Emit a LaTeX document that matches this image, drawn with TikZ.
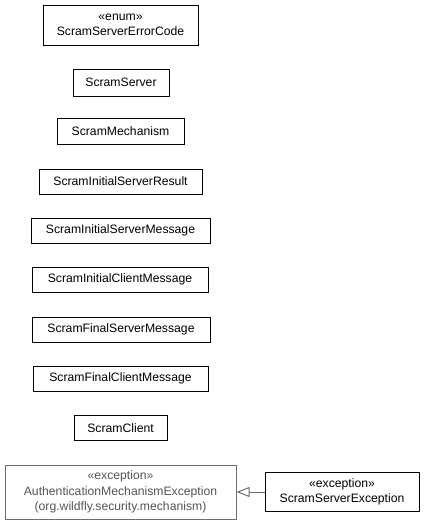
\documentclass[tikz,border=0pt]{standalone}
\usepackage{fontspec}
\setmainfont{Liberation Sans}
\usetikzlibrary{arrows.meta}
\definecolor{extgray}{RGB}{110,110,110}
\definecolor{exttext}{RGB}{85,85,85}
\begin{document}
\begin{tikzpicture}[x=1pt,y=-1pt,
  cls/.style={draw=black,line width=1pt,fill=white,inner sep=0pt,align=center,
    font=\fontsize{12.2}{15.5}\selectfont},
  extcls/.style={cls,draw=extgray,text=exttext},
  inh/.style={draw=extgray,line width=1pt,-{Triangle[open,length=13pt,width=10pt]}}]
\useasboundingbox (0,0) rectangle (425,525);
\node[cls,minimum width=155pt,minimum height=40pt] (err) at (120.5,25) {«enum»\\ScramServerErrorCode};
\node[cls,minimum width=96pt,minimum height=27pt] (srv) at (121,82.5) {ScramServer};
\node[cls,minimum width=127pt,minimum height=25.5pt] (mech) at (120.5,131.5) {ScramMechanism};
\node[cls,minimum width=163pt,minimum height=25pt] (isr) at (120.5,181.5) {ScramInitialServerResult};
\node[cls,minimum width=179pt,minimum height=25pt] (ism) at (120.5,230.5) {ScramInitialServerMessage};
\node[cls,minimum width=176pt,minimum height=25pt] (icm) at (120,279.5) {ScramInitialClientMessage};
\node[cls,minimum width=178pt,minimum height=25pt] (fsm) at (121,329.5) {ScramFinalServerMessage};
\node[cls,minimum width=175pt,minimum height=25pt] (fcm) at (120.5,378.5) {ScramFinalClientMessage};
\node[cls,minimum width=93pt,minimum height=24.5pt] (cli) at (120.5,428) {ScramClient};
\node[extcls,minimum width=231pt,minimum height=54pt] (ame) at (120.5,492) {«exception»\\AuthenticationMechanismException\\(org.wildfly.security.mechanism)};
\node[cls,minimum width=154pt,minimum height=39pt] (sse) at (342,492) {«exception»\\ScramServerException};
\draw[inh] (sse.west) -- (ame.east);
\end{tikzpicture}
\end{document}
